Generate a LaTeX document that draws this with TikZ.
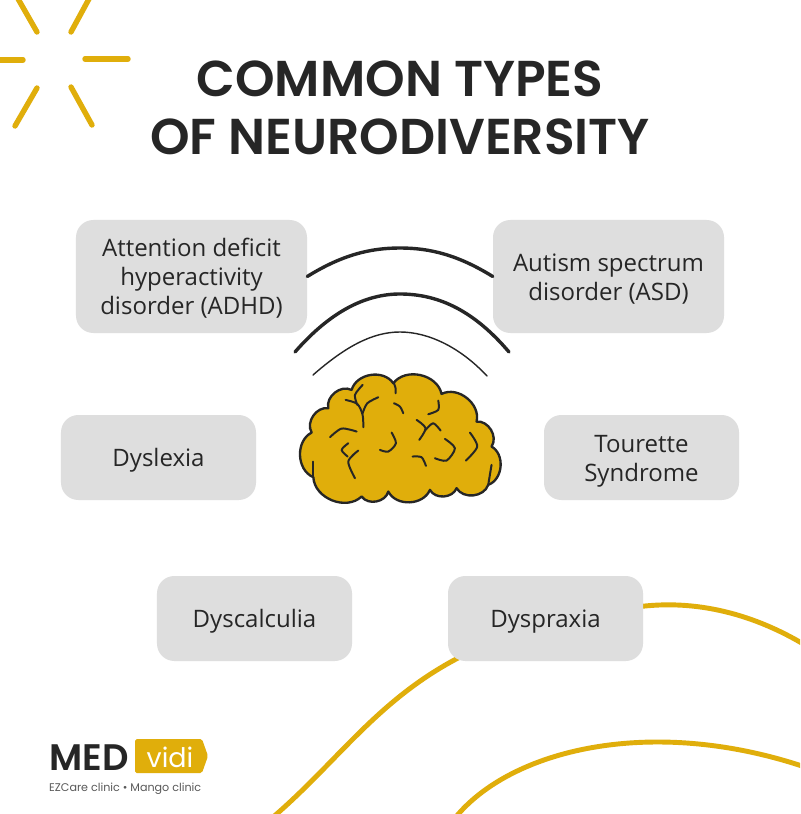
\documentclass[tikz,border=0pt]{standalone}
\usepackage{fontspec}
\setmainfont{Open Sans}
\newfontfamily\titlefont{Poppins}[BoldFont={Poppins SemiBold}]
\definecolor{brandyellow}{HTML}{E0AE0B}
\definecolor{boxgray}{HTML}{DEDEDE}
\definecolor{inkblack}{HTML}{262626}
\newcommand{\boxtext}[1]{\raisebox{-2.8pt}[\height][\depth]{\begin{tabular}{@{}c@{}}#1\end{tabular}}}
\tikzset{
  disorderbox/.style={fill=boxgray,rounded corners=5.2mm,inner sep=0pt,text=inkblack,font=\fontsize{20.5}{24.7}\selectfont},
  ray/.style={brandyellow,line width=4.6pt},
  wave/.style={brandyellow,line width=4.2pt},
  fold/.style={inkblack,line width=1.7pt},
  arcline/.style={inkblack,line width=2.9pt},
  bump/.style={bend left=65,looseness=1.05}
}
\begin{document}
\begin{tikzpicture}[line cap=round,line join=round,x=0.03cm,y=-0.03cm]

\useasboundingbox (0,0) rectangle (800,814);
\fill[white] (0,0) rectangle (800,814);

\draw[ray] (17,-3)-- (37,32);
\draw[ray] (90,-3)-- (71,32);
\draw[ray] (-3,60)-- (23,60);
\draw[ray] (85,59)-- (128,59);
\draw[ray] (37,88)-- (15,126);
\draw[ray] (71,87)-- (92,125);

\begin{scope}
\clip (0,0) rectangle (800,814);
\draw[wave] (630,608) .. controls (690,598) and (750,612) .. (805,645);
\draw[wave] (470,652) .. controls (380,695) and (340,760) .. (272,818);
\draw[wave] (455,818) .. controls (510,750) and (650,715) .. (805,767);
\end{scope}

\node[font=\titlefont\fontsize{43}{50}\selectfont\bfseries,text=inkblack] (titleone) at (400,79) {COMMON TYPES};
\node[font=\titlefont\fontsize{43}{50}\selectfont\bfseries,text=inkblack] (titletwo) at (400,137) {OF NEURODIVERSITY};

\node[disorderbox,minimum width=6.93cm,minimum height=3.39cm] (adhd) at (191.5,276.5) {\boxtext{Attention deficit\\hyperactivity\\disorder (ADHD)}};
\node[disorderbox,minimum width=6.93cm,minimum height=3.39cm] (asd) at (608.5,276.5) {\boxtext{Autism spectrum\\disorder (ASD)}};
\node[disorderbox,minimum width=5.85cm,minimum height=2.55cm] (dyslexia) at (158.5,457.5) {\boxtext{Dyslexia}};
\node[disorderbox,minimum width=5.85cm,minimum height=2.55cm] (tourette) at (641.5,457.5) {\boxtext{Tourette\\Syndrome}};
\node[disorderbox,minimum width=5.85cm,minimum height=2.55cm] (dyscalculia) at (254.5,618.5) {\boxtext{Dyscalculia}};
\node[disorderbox,minimum width=5.85cm,minimum height=2.55cm] (dyspraxia) at (545.5,618.5) {\boxtext{Dyspraxia}};

\draw[arcline] (adhd.east) .. controls (342,255) and (370,248) .. (400,248) .. controls (430,248) and (458,255) .. (asd.west);
\draw[arcline] (295,352) .. controls (330,312) and (365,294) .. (400,294) .. controls (440,294) and (475,312) .. (509,352);
\draw[inkblack,line width=1.2pt] (313,375) .. controls (345,347) and (372,332) .. (400,332) .. controls (428,332) and (460,347) .. (487,376);

\begin{scope}[shift={(280,240)},x=0.01cm,y=-0.01cm]
\draw[fill=brandyellow,draw=inkblack,line width=2pt]
  (100,712) to[bump] (95,578) to[bump] (145,505) to[bump] (215,450)
  to[bump] (340,430) to[bump] (485,462) to[bump] (590,545)
  to[bump] (635,620) to[bump] (625,735) to[bump] (530,745)
  to[bump] (450,750) to[bump] (325,755) to[bump] (245,770)
  to[bump] (100,712) -- cycle;
\draw[fold] plot[smooth] coordinates {(197,480) (232,492) (248,525) (250,562)};
\draw[fold] plot[smooth] coordinates {(248,435) (225,465) (232,495)};
\draw[fold] plot[smooth] coordinates {(295,472) (262,490) (248,520)};
\draw[fold] plot[smooth] coordinates {(342,430) (347,445) (347,460)};
\draw[fold] plot[smooth] coordinates {(342,490) (360,500) (370,520)};
\draw[fold] plot[smooth] coordinates {(150,592) (185,566) (230,575)};
\draw[fold] plot[smooth] coordinates {(205,610) (185,630) (203,650)};
\draw[fold] plot[smooth] coordinates {(235,632) (205,665) (225,715)};
\draw[fold] plot[smooth] coordinates {(335,578) (348,610) (325,635) (300,630)};
\draw[fold] plot[smooth] coordinates {(475,482) (475,510) (445,523)};
\draw[fold] plot[smooth] coordinates {(410,540) (437,565) (418,600)};
\draw[fold] plot[smooth] coordinates {(437,570) (460,550) (482,572)};
\draw[fold] plot[smooth] coordinates {(495,597) (525,625) (500,662) (465,655)};
\draw[fold] plot[smooth] coordinates {(398,650) (425,652) (438,678)};
\draw[fold] plot[smooth] coordinates {(570,578) (592,620) (558,662)};
\draw[fold] (100,665) -- (100,712);
\draw[fold] (635,675) -- (625,735);
\end{scope}

\fill[brandyellow,rounded corners=1.5pt] (135,739) -- (202,739) -- (208,756) -- (202,773) -- (135,773) -- cycle;
\node[font=\titlefont\fontsize{31.5}{36}\selectfont\bfseries,text=inkblack,anchor=base west,inner sep=0pt] (medlogo) at (49,770) {MED};
\node[font=\titlefont\fontsize{23}{24}\selectfont,text=white,anchor=base,inner sep=0pt] (vidilogo) at (170,767) {vidi};
\node[font=\titlefont\fontsize{9.5}{12}\selectfont,text=black!65,anchor=base west,inner sep=0pt] (clinics) at (49,791) {EZCare clinic • Mango clinic};

\end{tikzpicture}
\end{document}
